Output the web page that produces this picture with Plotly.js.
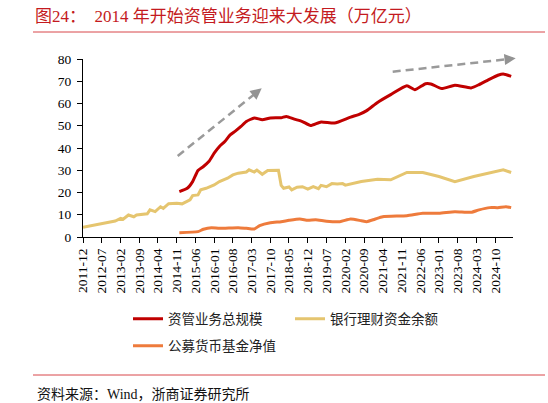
<!DOCTYPE html>
<html>
<head>
<meta charset="utf-8">
<script src="https://cdn.plot.ly/plotly-3.0.1.min.js"></script>
<style>html,body{margin:0;padding:0;background:#fff;}#chart{width:548px;height:403px;}</style>
</head>
<body>
<div id="chart"></div>
<script>
// ---- data (万亿元) ----
const totalDates = ['2014-12','2015-03','2015-05','2015-07','2015-09','2015-11','2016-01','2016-03','2016-05','2016-07','2016-09','2016-11','2017-01','2017-04','2017-07','2017-10','2018-02','2018-04','2018-07','2018-10','2019-01','2019-05','2019-10','2020-04','2020-07','2020-10','2021-02','2021-07','2022-01','2022-04','2022-08','2022-10','2023-02','2023-07','2024-01','2024-04','2024-08','2024-11','2025-01','2025-04'];
const totalValues = [20.4,21.9,24.9,29.9,31.7,33.9,37.7,40.7,42.9,45.9,47.7,49.7,51.9,53.5,52.7,53.5,53.6,54.2,53.0,51.9,50.1,51.7,51.2,53.9,55.0,56.8,60.5,64.0,68.0,66.2,68.9,68.8,66.7,68.2,67.0,68.5,71.0,72.7,73.3,72.2];

const bankDates = ['2011-12','2012-12','2013-02','2013-03','2013-05','2013-07','2013-08','2013-12','2014-01','2014-03','2014-05','2014-06','2014-08','2014-11','2015-01','2015-03','2015-04','2015-05','2015-07','2015-08','2015-10','2016-01','2016-03','2016-06','2016-08','2016-10','2017-01','2017-02','2017-04','2017-05','2017-07','2017-09','2017-11','2017-12','2018-01','2018-02','2018-03','2018-05','2018-06','2018-08','2018-10','2018-12','2019-02','2019-04','2019-05','2019-07','2019-09','2019-11','2020-01','2020-02','2020-08','2021-02','2021-07','2022-01','2022-07','2023-01','2023-07','2024-02','2024-08','2025-01','2025-04'];
const bankValues = [4.4,7.2,8.4,8.0,9.9,9.1,9.9,10.4,12.2,11.4,13.6,12.9,15.0,15.2,14.9,15.9,16.7,18.6,18.9,21.2,21.9,23.4,24.9,26.4,27.9,28.7,29.2,30.2,29.2,30.1,28.2,29.9,29.9,30.2,30.0,23.2,21.9,22.5,21.2,22.4,22.6,21.5,22.6,21.7,23.2,22.6,24.0,23.8,24.0,23.3,24.9,26.0,25.7,29.0,29.0,27.2,24.9,27.2,29.0,30.2,29.0];

const mmfDates = ['2014-12','2015-07','2015-09','2015-12','2016-03','2016-10','2017-01','2017-04','2017-06','2017-10','2018-02','2018-05','2018-09','2018-12','2019-03','2019-07','2019-12','2020-04','2020-08','2020-10','2021-01','2021-04','2022-01','2022-07','2023-01','2023-07','2024-01','2024-04','2024-08','2024-11','2025-02','2025-04'];
const mmfValues = [1.9,2.4,3.5,4.2,3.9,4.2,3.9,3.6,5.1,6.4,6.9,7.5,8.1,7.5,7.7,7.1,6.9,8.1,7.3,6.9,8.0,9.1,9.6,10.7,10.7,11.4,11.1,12.2,13.2,13.2,13.6,13.2];

const seriesNames = ['资管业务总规模','银行理财资金余额','公募货币基金净值'];
const tickLabels = ['2011-12','2012-07','2013-02','2013-09','2014-04','2014-11','2015-06','2016-01','2016-08','2017-03','2017-10','2018-05','2018-12','2019-07','2020-02','2020-09','2021-04','2021-11','2022-06','2023-01','2023-08','2024-03','2024-10'];

const titleText = '图24：  2014 年开始资管业务迎来大发展（万亿元）';
const sourceText = '资料来源：Wind，浙商证券研究所';

// ---- styling ----
const FONT = 'Liberation Serif, "Times New Roman", "Noto Sans CJK SC", serif';
const COLORS = ['#c00000', '#e5c56f', '#ee7b3c'];
const W = 548, H = 403;
const M = {l: 83, r: 35, t: 59, b: 166};
const PW = W - M.l - M.r, PH = H - M.t - M.b;
const px = x => (x - M.l) / PW;          // pixel -> paper x
const py = y => (H - M.b - y) / PH;      // pixel -> paper y

const traces = [
  {x: totalDates, y: totalValues, name: seriesNames[0], type: 'scatter', mode: 'lines',
   line: {color: COLORS[0], width: 3, shape: 'spline', smoothing: 0.5}, legend: 'legend', showlegend: true},
  {x: bankDates, y: bankValues, name: seriesNames[1], type: 'scatter', mode: 'lines',
   line: {color: COLORS[1], width: 3}, legend: 'legend2', showlegend: true},
  {x: mmfDates, y: mmfValues, name: seriesNames[2], type: 'scatter', mode: 'lines',
   line: {color: COLORS[2], width: 3, shape: 'spline', smoothing: 0.5}, legend: 'legend3', showlegend: true}
];

const legendFont = {family: FONT, size: 13.5, color: '#222'};
function mkLegend(xp, yp) {
  return {x: px(xp), y: py(yp), xref: 'paper', yref: 'paper', xanchor: 'left', yanchor: 'middle',
          orientation: 'h', font: legendFont, bgcolor: 'rgba(0,0,0,0)', itemwidth: 30, visible: true};
}

// arrows (decoration, pixel geometry)
const arrows = [
  {tail: [177.7, 156], tip: [261.7, 88.3]},
  {tail: [392.7, 71.7], tip: [515.7, 58.3]}
];
const shapes = [
  {type: 'line', xref: 'paper', yref: 'paper', x0: px(33), x1: px(545), y0: py(32), y1: py(32),
   line: {color: '#d8464a', width: 1}},
  {type: 'line', xref: 'paper', yref: 'paper', x0: px(33), x1: px(545), y0: py(375), y1: py(375),
   line: {color: '#d8464a', width: 1}}
];
const annotations = [
  {text: sourceText, xref: 'paper', yref: 'paper', x: px(35), y: py(394), xanchor: 'left', yanchor: 'middle',
   showarrow: false, font: {family: FONT, size: 14, color: '#111'}}
];
arrows.forEach(a => {
  const dx = a.tip[0] - a.tail[0], dy = a.tip[1] - a.tail[1];
  const len = Math.sqrt(dx*dx + dy*dy), ux = dx/len, uy = dy/len;
  const bx = a.tip[0] - 9*ux, by = a.tip[1] - 9*uy;
  shapes.push({type: 'line', xref: 'paper', yref: 'paper', x0: px(a.tail[0]), y0: py(a.tail[1]),
    x1: px(bx), y1: py(by), line: {color: '#9a9a9a', width: 2.5, dash: '8px,5px'}});
  annotations.push({xref: 'paper', yref: 'paper', x: px(a.tip[0]), y: py(a.tip[1]), text: '',
    showarrow: true, arrowhead: 2, arrowsize: 0.9, arrowwidth: 2.5, arrowcolor: '#939393',
    ax: -12*ux, ay: -12*uy, standoff: 0});
});

const layout = {
  width: W, height: H,
  margin: M,
  showlegend: true,
  paper_bgcolor: '#fff', plot_bgcolor: '#fff',
  title: {text: titleText, xref: 'container', yref: 'container', x: 35/W, y: 1 - 16/H,
          xanchor: 'left', yanchor: 'middle', font: {family: FONT, size: 17, color: '#c41a20'}},
  xaxis: {type: 'date', range: ['2011-12-01', '2025-04-22'], tickmode: 'array',
          tickvals: tickLabels, ticktext: tickLabels, tickangle: -90, ticks: 'outside', ticklen: 5,
          tickcolor: '#000', showline: true, linecolor: '#000', linewidth: 1, showgrid: false,
          zeroline: false, tickfont: {family: FONT, size: 13.5, color: '#000'}},
  yaxis: {range: [0, 80], dtick: 10, ticks: 'outside', ticklen: 5, tickcolor: '#000',
          showline: true, linecolor: '#000', linewidth: 1, showgrid: false, zeroline: false,
          ticklabelstandoff: 3, tickfont: {family: FONT, size: 13.5, color: '#000'}},
  legend: mkLegend(128, 319),
  legend2: mkLegend(290, 319),
  legend3: mkLegend(128, 346),
  shapes: shapes,
  annotations: annotations
};

Plotly.newPlot('chart', traces, layout, {displayModeBar: false, staticPlot: true});
</script>
</body>
</html>
